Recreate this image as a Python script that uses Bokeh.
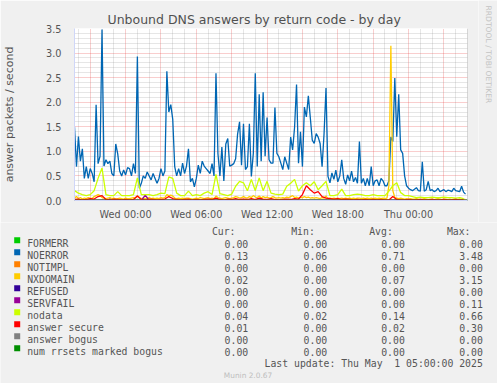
import math
from bokeh.plotting import figure
from bokeh.models import Range1d, FixedTicker, Span, PrintfTickFormatter
from bokeh.layouts import column, row
from bokeh.embed import file_html
from bokeh.resources import INLINE
from bokeh.core.properties import value

# ---------------- time axis (hours relative to Wed 00:00) ----------------
T_START = -(4 + 20 / 60)   # Tue 19:40
T_END = 29.0               # Thu 05:00 (last update)
FINE = 10 / 60             # 10-minute samples
COARSE = 20 / 60           # 20-minute samples

# ---------------- series (answers / second) ----------------
noerror = [
    1.5, 0.69, 1.3, 0.8, 1.05, 0.45, 0.69, 0.45, 0.65, 0.55,
    0.38, 1.95, 0.75, 0.9, 3.48, 0.7, 0.83, 0.75, 0.8, 0.55,
    0.5, 1.15, 0.95, 0.6, 0.5, 0.62, 0.52, 0.67,
    0.65, 0.5, 0.75, 0.55, 2.93, 0.25, 0.35, 0.5, 0.45, 0.58,
    0.5, 0.42, 0.55, 0.45, 0.35, 0.45, 0.65, 0.5, 0.6, 2.63,
    1.8, 1.95, 1.65, 0.69, 0.5, 0.65, 0.5, 0.76, 0.55, 0.7,
    1.05, 0.38, 0.45, 0.28, 0.45, 0.72, 0.55, 0.8, 0.7, 0.65,
    0.6, 0.55, 0.75, 0.5, 2.59, 0.95, 0.5, 1.09, 0.4, 1.15,
    1.26, 0.7, 0.72, 0.75, 0.85, 1.35, 1.6, 0.72, 1.56,
    0.63, 0.69, 1.56, 0.49, 0.96, 2.59, 0.69, 2.16, 0.8, 2.2,
    0.9, 1.69, 0.83, 0.76, 0.76, 1.89, 0.96, 0.89, 0.76, 0.63,
    0.89, 0.76, 0.63, 1.29, 1.03, 1.49, 2.36, 0.76, 1.4,
    0.69, 1.9, 1.7, 2.13, 1.69, 1.23, 1.16, 1.36, 1.29, 1.16,
    0.69, 1.36, 2.29, 0.49, 0.36, 0.56, 0.43, 0.62, 0.38, 0.5,
    0.83, 0.45, 0.33, 0.52, 0.4, 0.6, 0.38, 0.47, 0.35,
    1.2, 0.35, 0.45, 0.3, 0.45, 0.3, 0.69, 0.3, 0.4, 0.42,
    0.3, 0.45, 0.4, 0.3, 0.3, 0.4, 1.29, 1.2, 2.49, 1.3,
    2.16, 1.03, 0.96, 0.5, 0.3, 0.25, 0.22, 0.2,
    0.23, 0.26, 0.2, 0.19, 0.79, 0.19, 0.22, 0.39, 0.2, 0.22,
    0.18, 0.2, 0.25, 0.18, 0.2, 0.22, 0.18, 0.21, 0.2, 0.18,
    0.25, 0.2, 0.19, 0.18, 0.29, 0.17, 0.13,
]

nxdomain = [
    0.05, 0.08, 0.04, 0.06, 0.03, 0.05, 0.04, 0.06, 0.05, 0.04,
    0.08, 0.1, 0.12, 0.1, 0.06, 0.05, 0.04, 0.05, 0.06, 0.04,
    0.05, 0.03, 0.04, 0.05, 0.04, 0.03, 0.05, 0.04,
    0.04, 0.05, 0.06, 0.05, 0.1, 0.06, 0.04, 0.05, 0.04, 0.05,
    0.06, 0.04, 0.05, 0.04, 0.05, 0.04, 0.06, 0.05, 0.06, 0.12,
    0.1, 0.11, 0.09, 0.05, 0.04, 0.05, 0.04, 0.05, 0.04, 0.05,
    0.05, 0.04, 0.03, 0.04, 0.05, 0.04, 0.06, 0.05, 0.04, 0.05,
    0.06, 0.04, 0.05, 0.04, 0.09, 0.06, 0.05, 0.04, 0.05, 0.06,
    0.05, 0.04, 0.05, 0.06, 0.08, 0.07, 0.05, 0.06, 0.08,
    0.06, 0.05, 0.08, 0.06, 0.1, 0.07, 0.06, 0.09, 0.05, 0.08,
    0.06, 0.07, 0.05, 0.06, 0.08, 0.06, 0.05, 0.06, 0.05, 0.06,
    0.05, 0.07, 0.06, 0.08, 0.1, 0.06, 0.07, 0.05, 0.06,
    0.06, 0.08, 0.06, 0.07, 0.05, 0.06, 0.05, 0.06, 0.05, 0.04,
    0.06, 0.05, 0.09, 0.04, 0.05, 0.04, 0.05, 0.04, 0.05, 0.04,
    0.05, 0.04, 0.05, 0.04, 0.05, 0.04, 0.05, 0.04, 0.05,
    0.05, 0.04, 0.05, 0.04, 0.05, 0.04, 0.05, 0.04, 0.05, 0.04,
    0.05, 0.04, 0.05, 0.04, 0.05, 0.3, 3.15, 0.2, 0.06, 0.05,
    0.04, 0.05, 0.04, 0.03, 0.04, 0.03, 0.04, 0.03,
    0.03, 0.04, 0.03, 0.02, 0.03, 0.04, 0.03, 0.02, 0.03, 0.03,
    0.02, 0.03, 0.04, 0.03, 0.02, 0.03, 0.03, 0.02, 0.03, 0.02,
    0.03, 0.03, 0.02, 0.03, 0.02, 0.03, 0.02,
]

nodata = [
    0.2, 0.15, 0.12, 0.1, 0.12, 0.2, 0.45, 0.66, 0.12, 0.1,
    0.1, 0.18, 0.1, 0.1, 0.1, 0.12, 0.46, 0.12, 0.12, 0.12,
    0.1, 0.12, 0.15, 0.14, 0.48, 0.45, 0.15, 0.1, 0.1, 0.19,
    0.1, 0.12, 0.1, 0.15, 0.18, 0.12, 0.53, 0.14, 0.12, 0.1,
    0.13, 0.29, 0.39, 0.36, 0.2, 0.43, 0.2, 0.46, 0.2, 0.39,
    0.15, 0.13, 0.12, 0.13, 0.29, 0.35, 0.43, 0.19, 0.3, 0.36,
    0.3, 0.38, 0.22, 0.3, 0.39, 0.1, 0.1, 0.12, 0.23, 0.1,
    0.1, 0.12, 0.13, 0.12, 0.1, 0.1, 0.12, 0.1, 0.1, 0.1,
    0.19, 0.3, 0.36, 0.16, 0.1, 0.1, 0.08, 0.06, 0.07, 0.06,
    0.06, 0.07, 0.06, 0.06, 0.07, 0.06, 0.06, 0.05, 0.06, 0.04,
]

answer_secure = [
    0.02, 0.03, 0.01, 0.02, 0.04, 0.03, 0.08, 0.1, 0.02, 0.01,
    0.03, 0.02, 0.01, 0.02, 0.01, 0.02, 0.09, 0.02, 0.01, 0.03,
    0.02, 0.01, 0.02, 0.03, 0.08, 0.04, 0.02, 0.01, 0.02, 0.03,
    0.01, 0.02, 0.01, 0.02, 0.03, 0.02, 0.05, 0.02, 0.01, 0.03,
    0.02, 0.04, 0.02, 0.03, 0.02, 0.04, 0.02, 0.05, 0.03, 0.02,
    0.04, 0.02, 0.01, 0.02, 0.03, 0.02, 0.04, 0.03, 0.12, 0.3,
    0.22, 0.15, 0.18, 0.08, 0.05, 0.04, 0.03, 0.04, 0.02, 0.03,
    0.02, 0.01, 0.02, 0.01, 0.02, 0.01, 0.02, 0.01, 0.02, 0.01,
    0.01, 0.08, 0.02, 0.01, 0.01, 0.02, 0.01, 0.01, 0.02, 0.01,
    0.01, 0.02, 0.01, 0.01, 0.02, 0.01, 0.01, 0.02, 0.01, 0.01,
]

servfail = [
    0.0, 0.0, 0.0, 0.0, 0.0, 0.0, 0.0, 0.0, 0.0, 0.03,
    0.0, 0.0, 0.0, 0.0, 0.0, 0.0, 0.0, 0.0, 0.11, 0.0,
    0.0, 0.0, 0.0, 0.0, 0.0, 0.0, 0.0, 0.0, 0.0, 0.0,
    0.0, 0.0, 0.0, 0.0, 0.0, 0.0, 0.0, 0.0, 0.0, 0.0,
    0.0, 0.0, 0.0, 0.0, 0.0, 0.0, 0.0, 0.0, 0.02, 0.0,
    0.0, 0.0, 0.0, 0.0, 0.0, 0.0, 0.0, 0.0, 0.0, 0.0,
    0.0, 0.0, 0.0, 0.0, 0.0, 0.0, 0.0, 0.0, 0.0, 0.0,
    0.0, 0.0, 0.0, 0.0, 0.0, 0.0, 0.0, 0.0, 0.0, 0.0,
    0.0, 0.0, 0.0, 0.0, 0.0, 0.0, 0.0, 0.0, 0.0, 0.0,
    0.0, 0.0, 0.0, 0.0, 0.0, 0.0, 0.0, 0.0, 0.0, 0.0,
]

formerr = [0.0, 0.0]
notimpl = [0.0, 0.0]
refused = [0.0, 0.0]
answer_bogus = [0.0, 0.0]
num_rrsets_bogus = [0.0, 0.0]

# ---------------- legend table ----------------
legend_labels = ["FORMERR", "NOERROR", "NOTIMPL", "NXDOMAIN", "REFUSED", "SERVFAIL",
                 "nodata", "answer secure", "answer bogus", "num rrsets marked bogus"]
legend_colors = ["#00CC00", "#0066B3", "#FF8000", "#FFCC00", "#330099", "#990099",
                 "#CCFF00", "#FF0000", "#808080", "#008F00"]
cur_vals = [0.00, 0.13, 0.00, 0.02, 0.00, 0.00, 0.04, 0.01, 0.00, 0.00]
min_vals = [0.00, 0.06, 0.00, 0.00, 0.00, 0.00, 0.02, 0.00, 0.00, 0.00]
avg_vals = [0.00, 0.71, 0.00, 0.07, 0.00, 0.00, 0.14, 0.02, 0.00, 0.00]
max_vals = [0.00, 3.48, 0.00, 3.15, 0.00, 0.11, 0.66, 0.30, 0.00, 0.00]
stat_headers = ["Cur:", "Min:", "Avg:", "Max:"]

x_tick_hours = [0, 6, 12, 18, 24]
x_tick_labels = ["Wed 00:00", "Wed 06:00", "Wed 12:00", "Wed 18:00", "Thu 00:00"]
y_ticks = [0.0, 0.5, 1.0, 1.5, 2.0, 2.5, 3.0, 3.5]

title_text = "Unbound DNS answers by return code - by day"
vlabel_text = "answer packets / second"
side_text = "RRDTOOL / TOBI OETIKER"
update_text = "Last update: Thu May \u00a01 05:00:00 2025"
version_text = "Munin 2.0.67"

# ---------------- styling / layout ----------------
W_TOTAL = 497
W_SIDE = 19
W_MAIN = W_TOTAL - W_SIDE
H1 = 222
H2 = 161
FONT = "DejaVu Sans"
MONO = "DejaVu Sans Mono"
TXT = "#555555"
AXIS_COL = "#CFD6F8"
BG = "#F0F0F0"

t_fine = [T_START + i * FINE for i in range(len(noerror))]
t_nx = [T_START + i * FINE for i in range(len(nxdomain))]
t_coarse = [T_START + j * COARSE for j in range(len(nodata))]
t_edge = [T_START, T_END]

p = figure(width=W_MAIN, height=H1, x_range=Range1d(T_START, T_END), y_range=Range1d(0, 3.5),
           output_backend="svg", toolbar_location=None, title=title_text,
           min_border_left=67, min_border_right=11, min_border_top=28, min_border_bottom=19,
           background_fill_color="white", border_fill_color=BG, outline_line_color=None,
           frame_align=False)

p.title.align = "left"
p.title.offset = 33
p.title.standoff = 3
p.title.text_font = FONT
p.title.text_font_size = "12.5px"
p.title.text_font_style = "normal"
p.title.text_color = "#505050"

# axes
p.xaxis.ticker = FixedTicker(ticks=x_tick_hours)
p.xaxis.major_label_overrides = {h: lab for h, lab in zip(x_tick_hours, x_tick_labels)}
p.yaxis.ticker = FixedTicker(ticks=y_ticks)
p.yaxis.formatter = PrintfTickFormatter(format="%.1f")
for ax in (p.xaxis, p.yaxis):
    ax.axis_line_color = AXIS_COL
    ax.major_tick_line_color = None
    ax.minor_tick_line_color = None
    ax.major_label_text_font = FONT
    ax.major_label_text_font_size = "9.7px"
    ax.major_label_text_color = TXT
p.xaxis.major_label_standoff = 2
p.yaxis.major_label_standoff = 7
p.yaxis.axis_label = vlabel_text
p.yaxis.axis_label_text_font = FONT
p.yaxis.axis_label_text_font_size = "11px"
p.yaxis.axis_label_text_font_style = "normal"
p.yaxis.axis_label_text_color = TXT
p.yaxis.axis_label_standoff = 27

# grids
x_major = list(range(-3, 28, 3))
x_minor = [h for h in range(-4, 29) if h % 3 != 0]
y_minor = [k / 10 for k in range(1, 35) if k % 5 != 0]
p.xgrid.ticker = FixedTicker(ticks=x_major, minor_ticks=x_minor)
p.ygrid.ticker = FixedTicker(ticks=y_ticks, minor_ticks=y_minor)
for g in (p.xgrid, p.ygrid):
    g.grid_line_color = "#E93B3B"
    g.grid_line_alpha = 0.5
    g.grid_line_dash = "1 1"
    g.minor_grid_line_color = "#8F8F8F"
    g.minor_grid_line_alpha = 0.45
    g.minor_grid_line_dash = "1 1"

# series lines (munin draw order)
LW = 1.3
series = [
    (t_edge, formerr, legend_colors[0]),
    (t_fine, noerror, legend_colors[1]),
    (t_edge, notimpl, legend_colors[2]),
    (t_nx, nxdomain, legend_colors[3]),
    (t_edge, refused, legend_colors[4]),
    (t_coarse, servfail, legend_colors[5]),
    (t_coarse, nodata, legend_colors[6]),
    (t_coarse, answer_secure, legend_colors[7]),
    (t_edge, answer_bogus, legend_colors[8]),
    (t_edge, num_rrsets_bogus, legend_colors[9]),
]
for xs, ys, col in series:
    p.line(xs, ys, line_color=col, line_width=LW)

p.add_layout(Span(location=T_END, dimension="height", line_color="#B0B0B0", line_width=1))

# ---------------- side credit strip ----------------
ps = figure(width=W_SIDE, height=H1, x_range=Range1d(0, W_SIDE), y_range=Range1d(H1, 0),
            output_backend="svg", toolbar_location=None, min_border=0,
            x_axis_type=None, y_axis_type=None, outline_line_color=None,
            background_fill_color=BG, border_fill_color=BG, frame_align=False)
ps.text(x=[9.5], y=[5], text=[side_text], angle=-math.pi / 2, text_font=value(FONT),
        text_font_size="7.6px", text_color="#C4C4C4", text_align="left", text_baseline="middle")

# ---------------- legend figure ----------------
p2 = figure(width=W_TOTAL, height=H2, x_range=Range1d(0, W_TOTAL), y_range=Range1d(H2, 0),
            output_backend="svg", toolbar_location=None, min_border=0,
            x_axis_type=None, y_axis_type=None, outline_line_color=None,
            background_fill_color=BG, border_fill_color=BG, frame_align=False)

ROW0 = 21.3
ROWH = 12
n = len(legend_labels)
row_base = [ROW0 + ROWH * k for k in range(n)]
row_mid = [b - 3.6 for b in row_base]

p2.rect(x=[16.7] * n, y=row_mid, width=6, height=6, fill_color=legend_colors, line_color=None)
p2.text(x=[26.7] * n, y=row_base, text=legend_labels, text_font=value(MONO),
        text_font_size="9.8px", text_color=TXT, text_baseline="alphabetic", text_align="left")

val_right = [247.7, 326.7, 404.3, 482.3]
hdr_right = [235.0, 314.3, 392.3, 470.0]
for col_vals, xr in zip([cur_vals, min_vals, avg_vals, max_vals], val_right):
    p2.text(x=[xr] * n, y=row_base, text=["%.2f" % v for v in col_vals], text_font=value(MONO),
            text_font_size="9.8px", text_color=TXT, text_baseline="alphabetic", text_align="right")
p2.text(x=hdr_right, y=[9.3] * 4, text=stat_headers, text_font=value(MONO),
        text_font_size="9.8px", text_color=TXT, text_baseline="alphabetic", text_align="right")
p2.text(x=[482.3], y=[ROW0 + ROWH * n], text=[update_text], text_font=value(MONO),
        text_font_size="9.8px", text_color=TXT, text_baseline="alphabetic", text_align="right")
p2.text(x=[247.5], y=[153], text=[version_text], text_font=value(FONT),
        text_font_size="7.4px", text_color="#BEBEBE", text_baseline="alphabetic", text_align="center")

layout = column(row(p, ps, spacing=0), p2, spacing=0)
open("out.html", "w").write(file_html(layout, INLINE))
